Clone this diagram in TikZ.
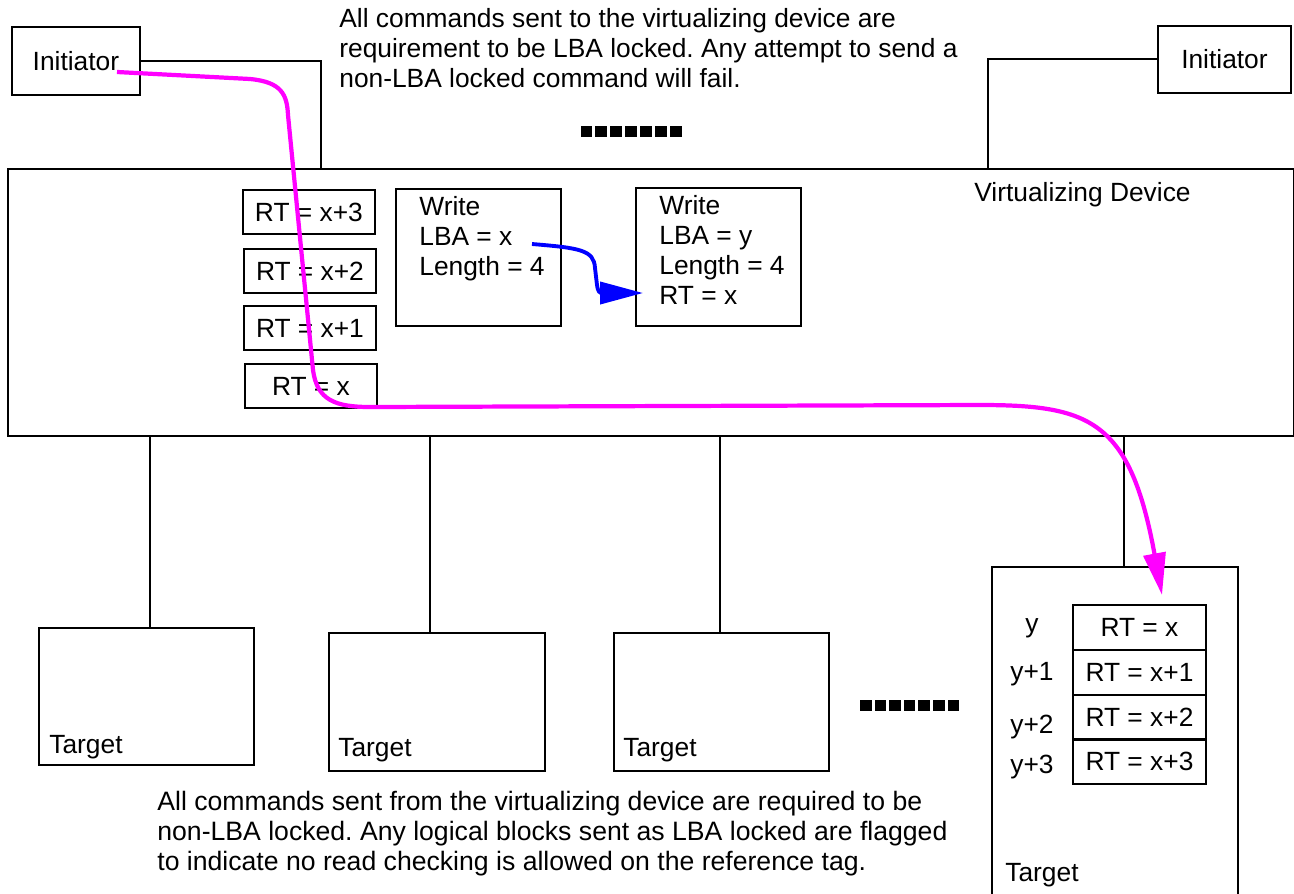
\documentclass[tikz,border=0pt]{standalone}
\usepackage{fontspec}
\setmainfont{Liberation Sans}
\usetikzlibrary{arrows.meta}
\definecolor{flowmagenta}{RGB}{255,0,255}
\definecolor{flowblue}{RGB}{0,0,255}
\frenchspacing

\begin{document}
\begin{tikzpicture}[x=0.02cm,y=-0.02cm,
    plain_box/.style={draw,line width=1.1pt,inner sep=0pt,anchor=north west,font=\fontsize{15}{17}\selectfont},
    rt_box/.style={plain_box,minimum width=2.64cm,minimum height=0.88cm},
    target_box/.style={plain_box,minimum width=4.3cm,minimum height=2.74cm},
    plain_text/.style={inner sep=0pt,font=\fontsize{15}{17}\selectfont},
    wire/.style={line width=1.1pt},
    flow_magenta/.style={line width=2.4pt,flowmagenta,-{Triangle[length=0.84cm,width=0.44cm]}},
    flow_blue/.style={line width=2.2pt,flowblue,-{Triangle[length=0.86cm,width=0.44cm]}}]
    \useasboundingbox (0,0) rectangle (1294,893);

    % initiators and the virtualizing device
    \node[plain_box,minimum width=2.56cm,minimum height=1.36cm] (init_left) at (11,26) {Initiator};
    \node[plain_box,minimum width=2.66cm,minimum height=1.34cm] (init_right) at (1157,25) {Initiator};
    \node[plain_box,minimum width=25.72cm,minimum height=5.34cm] (vdev) at (7,168) {};
    \node[plain_text,anchor=west] (vdev_label) at (974,195) {Virtualizing Device};

    \node[plain_text,anchor=north west,align=left] (note_top) at (339,8)
        {All commands sent to the virtualizing device are\\
         requirement to be LBA locked. Any attempt to send a\\
         non-LBA locked command will fail.};

    % reference tags held in the virtualizing device
    \node[rt_box] (rt_3) at (242,189) {RT = x+3};
    \node[rt_box] (rt_2) at (243,248) {RT = x+2};
    \node[rt_box] (rt_1) at (243,305) {RT = x+1};
    \node[rt_box] (rt_0) at (244,363) {RT = x};

    \node[plain_box,minimum width=3.3cm,minimum height=2.74cm] (write_a) at (395,188) {};
    \node[plain_text,anchor=north west,align=left] (write_a_text) at (419,196)
        {Write\\ LBA = x\\ Length = 4};
    \node[plain_box,minimum width=3.3cm,minimum height=2.76cm] (write_b) at (635,187) {};
    \node[plain_text,anchor=north west,align=left] (write_b_text) at (659,195)
        {Write\\ LBA = y\\ Length = 4\\ RT = x};

    % targets
    \node[target_box,minimum height=2.74cm] (target_a) at (38,627) {};
    \node[target_box,minimum width=4.32cm,minimum height=2.76cm] (target_b) at (328,632) {};
    \node[target_box,minimum height=2.76cm] (target_c) at (613,632) {};
    \node[plain_box,minimum width=4.92cm,minimum height=6.7cm] (target_d) at (991,566) {};
    \node[plain_text,anchor=base west] (target_a_label) at (49,753) {Target};
    \node[plain_text,anchor=base west] (target_b_label) at (338,756) {Target};
    \node[plain_text,anchor=base west] (target_c_label) at (623,756) {Target};
    \node[plain_text,anchor=base west] (target_d_label) at (1005,881) {Target};

    \node[rt_box,minimum width=2.66cm,minimum height=0.9cm] (trt_0) at (1072,604) {RT = x};
    \node[rt_box,minimum width=2.66cm,minimum height=0.9cm] (trt_1) at (1072,649) {RT = x+1};
    \node[rt_box,minimum width=2.66cm,minimum height=0.9cm] (trt_2) at (1072,694) {RT = x+2};
    \node[rt_box,minimum width=2.66cm,minimum height=0.9cm] (trt_3) at (1072,738) {RT = x+3};
    \node[plain_text,anchor=base] (lba_0) at (1032,632) {y};
    \node[plain_text,anchor=base] (lba_1) at (1032,680) {y+1};
    \node[plain_text,anchor=base] (lba_2) at (1032,733) {y+2};
    \node[plain_text,anchor=base] (lba_3) at (1032,773) {y+3};

    \node[plain_text,anchor=north west,align=left,font=\fontsize{15.15}{17}\selectfont] (note_bottom) at (157,791)
        {All commands sent from the virtualizing device are required to be\\
         non-LBA locked. Any logical blocks sent as LBA locked are flagged\\
         to indicate no read checking is allowed on the reference tag.};

    % more devices
    \foreach \i in {0,...,6} {
        \fill (580.5+\i*14.9,125.5) rectangle ++(11.7,11);
        \fill (860+\i*14.6,700) rectangle ++(11.5,10.5);
    }

    % links
    \draw[wire] (init_left.east) -| (vdev.north -| 321,0);
    \draw[wire] (init_right.west) -| (vdev.north -| 988,0);
    \draw[wire] (vdev.south -| 150,0) -- (target_a.north -| 150,0);
    \draw[wire] (vdev.south -| 430,0) -- (target_b.north -| 430,0);
    \draw[wire] (vdev.south -| 720,0) -- (target_c.north -| 720,0);
    \draw[wire] (vdev.south -| 1124,0) -- (target_d.north -| 1124,0);

    % command flow
    \coordinate (flow_start) at (117,72);
    \coordinate (flow_end) at (1162,595);
    \draw[flow_magenta] (flow_start) -- (250,79) .. controls (282,82) and (287,95) .. (288,115)
        -- (313,370) .. controls (317,400) and (335,407) .. (370,407)
        -- (980,405) .. controls (1090,405) and (1130,420) .. (flow_end);
    \coordinate (remap_start) at (532,244);
    \coordinate (remap_end) at (643,293);
    \draw[flow_blue] (remap_start) .. controls (580,248) and (594,250) .. (595,268)
        -- (597,285) .. controls (598,292) and (600,293) .. (remap_end);
\end{tikzpicture}
\end{document}
